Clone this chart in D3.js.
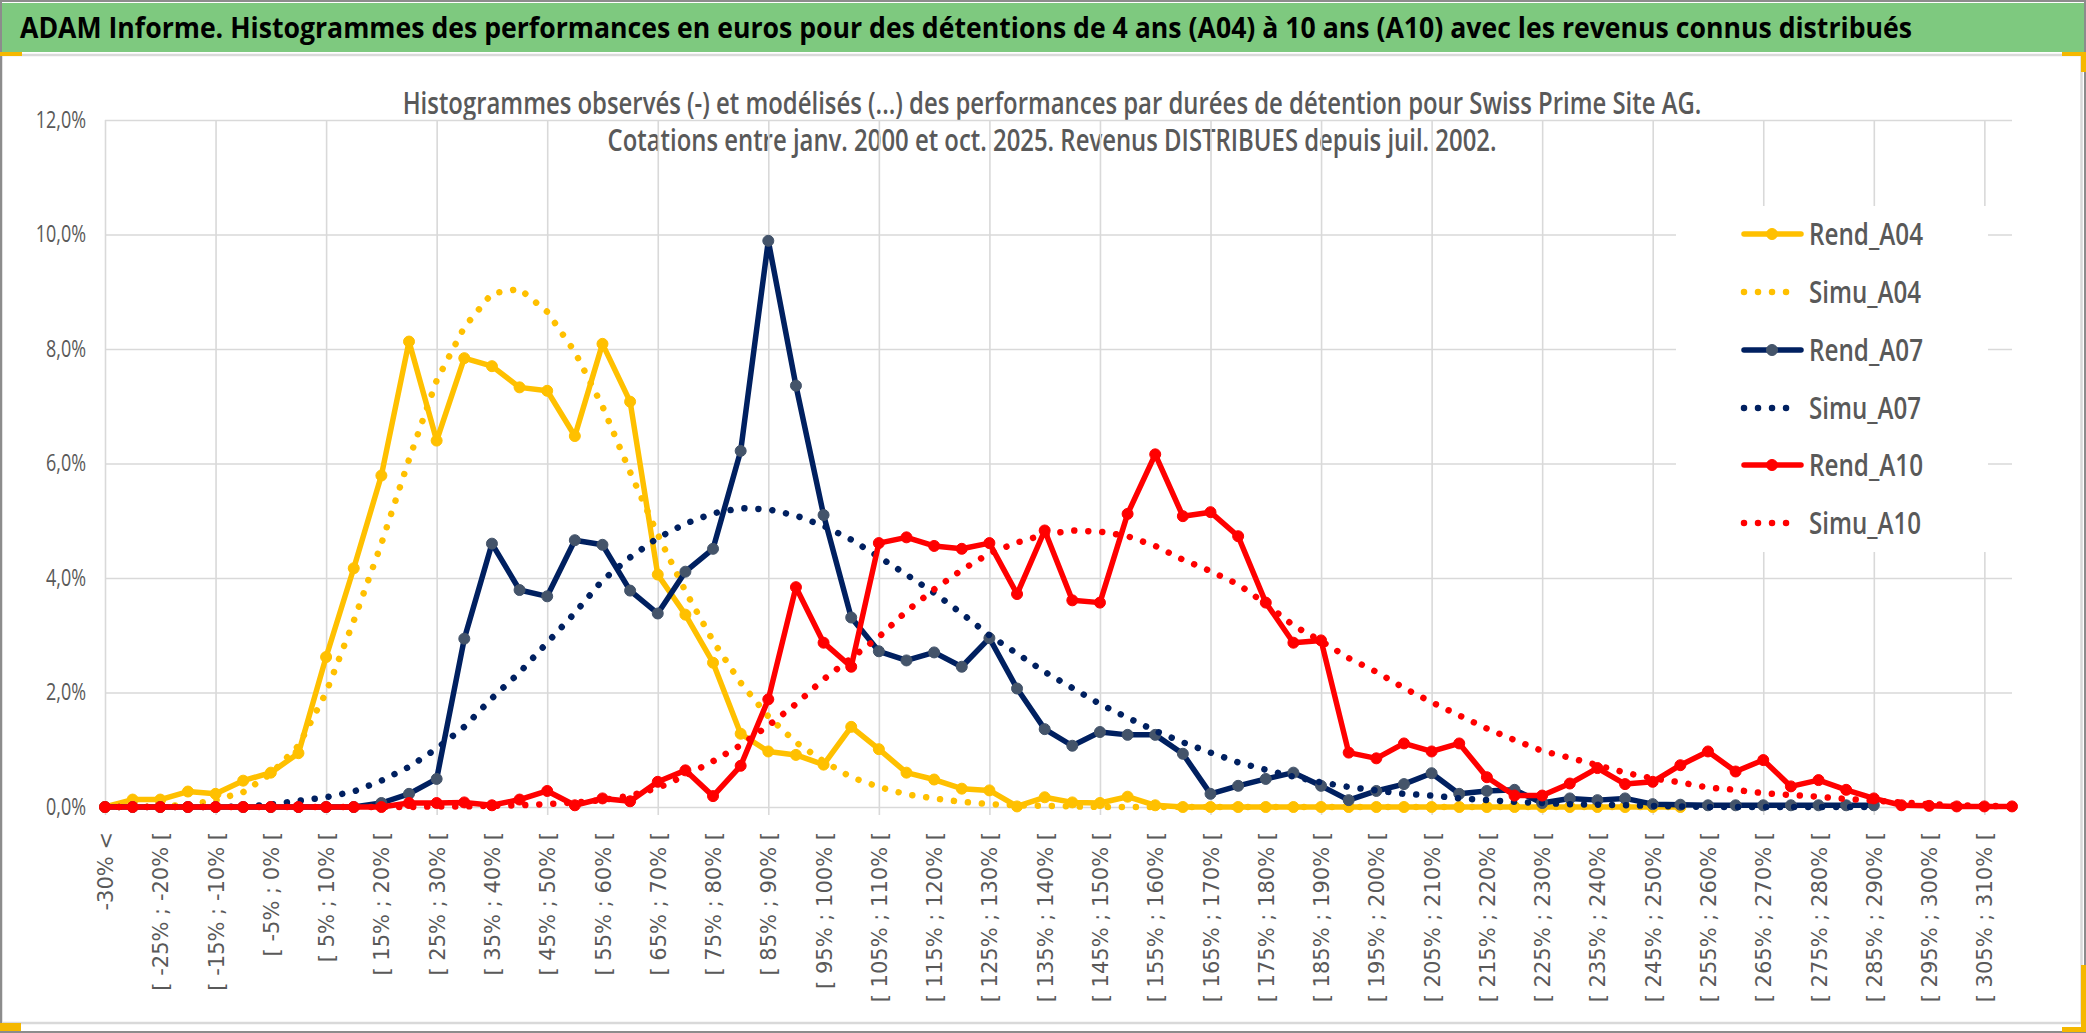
<!DOCTYPE html>
<html>
<head>
<meta charset="utf-8">
<script src="https://cdn.jsdelivr.net/npm/d3@7"></script>
<style>
  body { margin: 0; background: #fff; }
  svg { display: block; }
</style>
</head>
<body>
<div id="chart"></div>
<script>
// categories (classes de performance)
const categories = [
  "-30% <", "[ -30% ; -25% [", "[ -25% ; -20% [", "[ -20% ; -15% [", "[ -15% ; -10% [",
  "[ -10% ; -5% [", "[ -5% ; 0% [", "[ 0% ; 5% [", "[ 5% ; 10% [", "[ 10% ; 15% [",
  "[ 15% ; 20% [", "[ 20% ; 25% [", "[ 25% ; 30% [", "[ 30% ; 35% [", "[ 35% ; 40% [",
  "[ 40% ; 45% [", "[ 45% ; 50% [", "[ 50% ; 55% [", "[ 55% ; 60% [", "[ 60% ; 65% [",
  "[ 65% ; 70% [", "[ 70% ; 75% [", "[ 75% ; 80% [", "[ 80% ; 85% [", "[ 85% ; 90% [",
  "[ 90% ; 95% [", "[ 95% ; 100% [", "[ 100% ; 105% [", "[ 105% ; 110% [", "[ 110% ; 115% [",
  "[ 115% ; 120% [", "[ 120% ; 125% [", "[ 125% ; 130% [", "[ 130% ; 135% [", "[ 135% ; 140% [",
  "[ 140% ; 145% [", "[ 145% ; 150% [", "[ 150% ; 155% [", "[ 155% ; 160% [", "[ 160% ; 165% [",
  "[ 165% ; 170% [", "[ 170% ; 175% [", "[ 175% ; 180% [", "[ 180% ; 185% [", "[ 185% ; 190% [",
  "[ 190% ; 195% [", "[ 195% ; 200% [", "[ 200% ; 205% [", "[ 205% ; 210% [", "[ 210% ; 215% [",
  "[ 215% ; 220% [", "[ 220% ; 225% [", "[ 225% ; 230% [", "[ 230% ; 235% [", "[ 235% ; 240% [",
  "[ 240% ; 245% [", "[ 245% ; 250% [", "[ 250% ; 255% [", "[ 255% ; 260% [", "[ 260% ; 265% [",
  "[ 265% ; 270% [", "[ 270% ; 275% [", "[ 275% ; 280% [", "[ 280% ; 285% [", "[ 285% ; 290% [",
  "[ 290% ; 295% [", "[ 295% ; 300% [", "[ 300% ; 305% [", "[ 305% ; 310% [", "[ 310% ; 315% ["
];
const yTicks = [0, 2, 4, 6, 8, 10, 12];
const yTickLabels = ["0,0%", "2,0%", "4,0%", "6,0%", "8,0%", "10,0%", "12,0%"];

// values in %
const rendA04 = [
  0.00, 0.13, 0.13, 0.27, 0.23, 0.46, 0.60, 0.94, 2.62, 4.17,
  5.79, 8.13, 6.40, 7.84, 7.70, 7.33, 7.27, 6.48, 8.09, 7.08,
  4.06, 3.36, 2.52, 1.28, 0.97, 0.91, 0.74, 1.40, 1.01, 0.60,
  0.48, 0.32, 0.29, 0.01, 0.17, 0.08, 0.07, 0.18, 0.03, 0.00,
  0.00, 0.00, 0.00, 0.00, 0.00, 0.00, 0.00, 0.00, 0.00, 0.00,
  0.00, 0.00, 0.00, 0.00, 0.00, 0.00, 0.00, 0.00, null, null,
  null, null, null, null, null, null, null, null, null, null
];
const simuA04 = [
  0.00, 0.00, 0.01, 0.04, 0.12, 0.26, 0.58, 1.07, 2.00, 3.25,
  4.60, 6.07, 7.45, 8.38, 8.97, 9.05, 8.65, 7.95, 7.00, 5.85,
  4.76, 3.77, 2.90, 2.17, 1.58, 1.13, 0.80, 0.52, 0.35, 0.22,
  0.15, 0.09, 0.05, 0.03, 0.02, 0.01, 0.00, 0.00, 0.00, 0.00,
  0.00, 0.00, 0.00, 0.00, 0.00, 0.00, 0.00, 0.00, 0.00, 0.00,
  0.00, 0.00, 0.00, 0.00, 0.00, 0.00, 0.00, 0.00, null, null,
  null, null, null, null, null, null, null, null, null, null
];
const rendA07 = [
  0.00, 0.00, 0.00, 0.00, 0.00, 0.00, 0.00, 0.00, 0.00, 0.00,
  0.07, 0.23, 0.49, 2.94, 4.60, 3.79, 3.68, 4.66, 4.58, 3.78,
  3.38, 4.11, 4.51, 6.22, 9.89, 7.36, 5.10, 3.31, 2.72, 2.56,
  2.70, 2.45, 2.95, 2.07, 1.36, 1.07, 1.31, 1.26, 1.26, 0.93,
  0.23, 0.37, 0.49, 0.60, 0.37, 0.12, 0.28, 0.40, 0.59, 0.23,
  0.28, 0.30, 0.07, 0.15, 0.12, 0.15, 0.05, 0.04, 0.03, 0.03,
  0.03, 0.03, 0.03, 0.03, 0.03, null, null, null, null, null
];
const simuA07 = [
  0.00, 0.00, 0.00, 0.00, 0.00, 0.01, 0.04, 0.11, 0.17, 0.27,
  0.46, 0.70, 1.02, 1.40, 1.90, 2.35, 2.87, 3.39, 3.96, 4.36,
  4.70, 4.95, 5.13, 5.22, 5.20, 5.09, 4.91, 4.67, 4.37, 4.06,
  3.74, 3.38, 3.00, 2.68, 2.36, 2.08, 1.80, 1.56, 1.33, 1.13,
  0.95, 0.78, 0.65, 0.53, 0.43, 0.35, 0.29, 0.23, 0.20, 0.15,
  0.12, 0.09, 0.07, 0.05, 0.04, 0.03, 0.02, 0.01, 0.00, 0.00,
  0.00, 0.00, 0.00, 0.00, 0.00, null, null, null, null, null
];
const rendA10 = [
  0.00, 0.00, 0.00, 0.00, 0.00, 0.00, 0.00, 0.00, 0.00, 0.00,
  0.00, 0.07, 0.07, 0.08, 0.03, 0.13, 0.28, 0.03, 0.15, 0.10,
  0.44, 0.64, 0.19, 0.72, 1.88, 3.84, 2.87, 2.45, 4.61, 4.71,
  4.56, 4.51, 4.61, 3.72, 4.83, 3.61, 3.57, 5.12, 6.16, 5.08,
  5.15, 4.73, 3.57, 2.87, 2.91, 0.95, 0.85, 1.11, 0.97, 1.11,
  0.52, 0.20, 0.20, 0.41, 0.68, 0.40, 0.44, 0.73, 0.97, 0.62,
  0.82, 0.36, 0.47, 0.30, 0.15, 0.03, 0.02, 0.01, 0.01, 0.01
];
const simuA10 = [
  0.00, 0.00, 0.00, 0.00, 0.00, 0.00, 0.00, 0.00, 0.00, 0.00,
  0.00, 0.00, 0.01, 0.01, 0.02, 0.03, 0.05, 0.08, 0.12, 0.20,
  0.33, 0.55, 0.80, 1.08, 1.42, 1.80, 2.23, 2.60, 2.97, 3.42,
  3.80, 4.14, 4.43, 4.62, 4.76, 4.83, 4.81, 4.73, 4.56, 4.32,
  4.12, 3.89, 3.55, 3.17, 2.90, 2.60, 2.36, 2.08, 1.83, 1.60,
  1.37, 1.17, 0.98, 0.86, 0.73, 0.60, 0.50, 0.43, 0.34, 0.30,
  0.24, 0.21, 0.18, 0.14, 0.11, 0.08, 0.05, 0.03, 0.02, 0.01
];

const series = [
  { name: "Rend_A04", values: rendA04, color: "#FFC000", marker: "#FFC000", dotted: false },
  { name: "Simu_A04", values: simuA04, color: "#FFC000", dotted: true },
  { name: "Rend_A07", values: rendA07, color: "#002060", marker: "#44546A", dotted: false },
  { name: "Simu_A07", values: simuA07, color: "#002060", dotted: true },
  { name: "Rend_A10", values: rendA10, color: "#FF0000", marker: "#FF0000", dotted: false },
  { name: "Simu_A10", values: simuA10, color: "#FF0000", dotted: true }
];

const W = 2086, H = 1033;
const plotLeft = 105, plotRight = 2012, plotTop = 120, plotBottom = 807;
const txt = "#595959";
const grid = "#D9D9D9";

const svg = d3.select("#chart").append("svg")
  .attr("width", W)
  .attr("height", H);

// frame, title bar
svg.append("rect").attr("x", 0).attr("y", 0).attr("width", W).attr("height", H).attr("fill", "#fff");
svg.append("rect").attr("x", 2).attr("y", 3).attr("width", W - 4).attr("height", 49).attr("fill", "#7EC97F");
svg.append("rect").attr("x", 1.5).attr("y", 55).attr("width", 2080).attr("height", 968)
  .attr("fill", "none").attr("stroke", grid).attr("stroke-width", 2.5);
svg.append("rect").attr("x", 1).attr("y", 1).attr("width", W - 2).attr("height", H - 2)
  .attr("fill", "none").attr("stroke", "#8C8C8C").attr("stroke-width", 2);

// selection handles (orange)
const handles = [[0, 52, 22, 4], [2062, 52, 24, 4], [2081, 52, 5, 20], [0, 1023, 21, 8], [2062, 1027, 24, 5], [2081, 965, 5, 67]];
svg.selectAll(".handle").data(handles).enter().append("rect")
  .attr("x", d => d[0]).attr("y", d => d[1]).attr("width", d => d[2]).attr("height", d => d[3])
  .attr("fill", "#F5B800");

function squeeze(sel, k) {
  sel.each(function () {
    const w = this.getComputedTextLength();
    d3.select(this).attr("textLength", w * k).attr("lengthAdjust", "spacingAndGlyphs");
  });
}

// main title
svg.append("text")
  .attr("x", 966).attr("y", 38)
  .attr("text-anchor", "middle")
  .style("font-family", "'Open Sans', sans-serif")
  .style("font-weight", "bold")
  .style("font-size", "29px")
  .attr("fill", "#000")
  .attr("textLength", 1892).attr("lengthAdjust", "spacingAndGlyphs")
  .text("ADAM Informe. Histogrammes des performances en euros pour des détentions de 4 ans (A04) à 10 ans (A10) avec les revenus connus distribués");

// chart subtitle (two centred lines, same horizontal squeeze)
const sub2 = svg.append("text")
  .attr("x", 1052).attr("y", 151)
  .attr("text-anchor", "middle")
  .style("font-family", "'Open Sans', sans-serif")
  .style("font-weight", "600")
  .style("font-size", "30px")
  .attr("fill", txt)
  .text("Cotations entre janv. 2000 et oct. 2025. Revenus DISTRIBUES depuis juil. 2002.");
const k = 889 / sub2.node().getComputedTextLength();
sub2.attr("textLength", 889).attr("lengthAdjust", "spacingAndGlyphs");
svg.append("text")
  .attr("x", 1052).attr("y", 114)
  .attr("text-anchor", "middle")
  .style("font-family", "'Open Sans', sans-serif")
  .style("font-weight", "600")
  .style("font-size", "30px")
  .attr("fill", txt)
  .text("Histogrammes observés (-) et modélisés (...) des performances par durées de détention pour Swiss Prime Site AG.")
  .call(squeeze, k);

// scales
const x = d3.scalePoint().domain(categories).range([plotLeft, plotRight]);
const y = d3.scaleLinear().domain([0, 12]).range([plotBottom, plotTop]);

// vertical gridlines, every 4 classes, with a small tick below the axis
const gridCats = categories.filter((d, i) => i % 4 === 0);
svg.append("g")
  .attr("transform", "translate(0," + (plotBottom + 8) + ")")
  .call(d3.axisBottom(x).tickValues(gridCats).tickSize(-(plotBottom + 8 - plotTop)).tickFormat(""))
  .call(g => g.select(".domain").remove())
  .call(g => g.selectAll("line").attr("stroke", grid).attr("stroke-width", 1.6));

// y axis + horizontal gridlines
const yAxis = svg.append("g")
  .attr("transform", "translate(" + plotLeft + ",0)")
  .call(d3.axisLeft(y).tickValues(yTicks).tickSize(-(plotRight - plotLeft)).tickPadding(19)
    .tickFormat((d, i) => yTickLabels[i]));
yAxis.select(".domain").remove();
yAxis.selectAll("line").attr("stroke", grid).attr("stroke-width", 1.6);
yAxis.selectAll("text")
  .style("font-family", "'Open Sans', sans-serif")
  .style("font-size", "23px")
  .attr("fill", txt)
  .call(squeeze, 0.78);

// x labels, one in two
const labelCats = categories.filter((d, i) => i % 2 === 0);
const xAxis = svg.append("g")
  .attr("transform", "translate(0," + plotBottom + ")")
  .call(d3.axisBottom(x).tickValues(labelCats).tickSize(0));
xAxis.select(".domain").remove();
xAxis.selectAll("text")
  .attr("transform", "rotate(-90)")
  .attr("x", -25).attr("y", 0).attr("dy", "0.36em")
  .style("text-anchor", "end")
  .style("font-family", "'DejaVu Sans', sans-serif")
  .style("font-size", "21px")
  .attr("fill", txt);

// series
const line = d3.line()
  .x(d => x(d.c))
  .y(d => y(d.v));

series.forEach(s => {
  const pts = s.values.map((v, i) => ({ c: categories[i], v: v })).filter(d => d.v !== null);
  const g = svg.append("g");
  g.append("path")
    .datum(pts)
    .attr("d", line)
    .attr("fill", "none")
    .attr("stroke", s.color)
    .attr("stroke-width", s.dotted ? 6.5 : 5.5)
    .attr("stroke-linejoin", "round")
    .attr("stroke-linecap", "round")
    .attr("stroke-dasharray", s.dotted ? "0.01 14" : null);
  if (!s.dotted) {
    g.selectAll("circle")
      .data(pts)
      .enter()
      .append("circle")
      .attr("cx", d => x(d.c))
      .attr("cy", d => y(d.v))
      .attr("r", 5.5)
      .attr("fill", s.marker)
      .attr("stroke", s.marker)
      .attr("stroke-width", 1);
  }
});

// legend
const legend = svg.append("g");
legend.append("rect").attr("x", 1676).attr("y", 206).attr("width", 312).attr("height", 346).attr("fill", "#fff");
const legY = [234, 292, 350, 408, 465, 523];
series.forEach((s, i) => {
  const yy = legY[i];
  if (s.dotted) {
    legend.append("line")
      .attr("x1", 1744).attr("x2", 1800).attr("y1", yy).attr("y2", yy)
      .attr("stroke", s.color).attr("stroke-width", 6.5)
      .attr("stroke-linecap", "round").attr("stroke-dasharray", "0.01 14");
  } else {
    legend.append("line")
      .attr("x1", 1744).attr("x2", 1801).attr("y1", yy).attr("y2", yy)
      .attr("stroke", s.color).attr("stroke-width", 5.5).attr("stroke-linecap", "round");
    legend.append("circle").attr("cx", 1772).attr("cy", yy).attr("r", 5.5)
      .attr("fill", s.marker).attr("stroke", s.marker);
  }
  legend.append("text")
    .attr("x", 1809).attr("y", yy + 11)
    .style("font-family", "'Open Sans', sans-serif")
    .style("font-weight", "600")
    .style("font-size", "30px")
    .attr("fill", txt)
    .attr("textLength", s.dotted ? 112 : 114).attr("lengthAdjust", "spacingAndGlyphs")
    .text(s.name);
});
</script>
</body>
</html>
